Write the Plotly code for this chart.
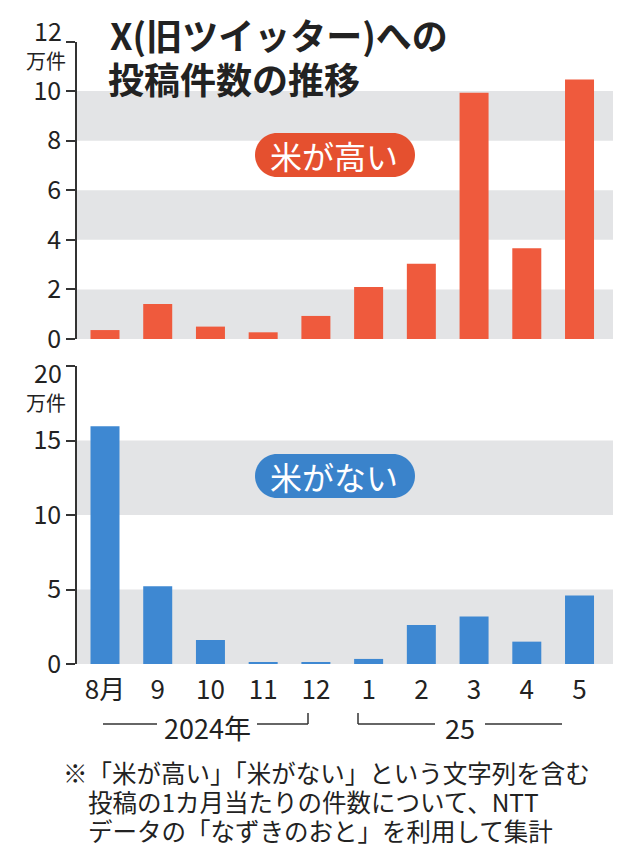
import plotly.graph_objects as go

# ---- data ----
months = ["8月", "9", "10", "11", "12", "1", "2", "3", "4", "5"]
high_price = [0.36, 1.41, 0.5, 0.27, 0.93, 2.1, 3.04, 9.93, 3.66, 10.47]   # 米が高い (万件)
no_rice = [15.95, 5.22, 1.61, 0.11, 0.13, 0.34, 2.62, 3.18, 1.5, 4.6]      # 米がない (万件)
top_ticks = [0, 2, 4, 6, 8, 10, 12]
bottom_ticks = [0, 5, 10, 15, 20]
title_lines = ["X(旧ツイッター)への", "投稿件数の推移"]
unit_label = "万件"
label_high = "米が高い"
label_none = "米がない"
year_labels = ["2024年", "25"]
notes = ["※「米が高い」「米がない」という文字列を含む",
         "投稿の1カ月当たりの件数について、NTT",
         "データの「なずきのおと」を利用して集計"]

W, H = 630, 860
RED = "#EF5A3D"
RED_PILL = "#E5502F"
BLUE = "#3E88D2"
BLUE_PILL = "#3A83CB"
GRAY = "#E3E4E6"
INK = "#222222"
FONT = "Noto Sans CJK JP"
TICK_SIZE = 25

# screen-pixel -> paper helpers (page body has an 8px margin)
X_OFF, Y_OFF = 8.0, 8.0


def px(x):
    return (x - X_OFF) / W


def py(y):
    return 1 - (y - Y_OFF) / H


fig = go.Figure()
fig.add_trace(go.Bar(x=months, y=high_price, xaxis="x", yaxis="y",
                     marker=dict(color=RED, line=dict(width=0)), width=0.55,
                     showlegend=False))
fig.add_trace(go.Bar(x=months, y=no_rice, xaxis="x2", yaxis="y2",
                     marker=dict(color=BLUE, line=dict(width=0)), width=0.55,
                     showlegend=False))

xdom = [px(77), px(613)]
xrange = [-0.531, 9.635]
yaxis_common = dict(showline=True, linecolor="#333", linewidth=1.5, ticks="outside",
                    ticklen=9, tickcolor="#333", tickwidth=1.5, showgrid=False,
                    zeroline=False, automargin=False,
                    tickfont=dict(family=FONT, size=TICK_SIZE, color=INK))

shapes = []
# alternating background bands
for ax, ticks in (("y", top_ticks), ("y2", bottom_ticks)):
    for i in range(0, len(ticks) - 1, 2):
        shapes.append(dict(type="rect", xref=("x" if ax == "y" else "x2") + " domain",
                           yref=ax, x0=0, x1=1, y0=ticks[i], y1=ticks[i + 1],
                           fillcolor=GRAY, line=dict(width=0), layer="below"))


def pill(x0, y0, x1, y1, color):
    r = (y1 - y0) / 2
    k = 0.5523 * r
    pts = [
        ("M", [(x0 + r, y0)]),
        ("L", [(x1 - r, y0)]),
        ("C", [(x1 - r + k, y0), (x1, y0 + r - k), (x1, y0 + r)]),
        ("C", [(x1, y0 + r + k), (x1 - r + k, y1), (x1 - r, y1)]),
        ("L", [(x0 + r, y1)]),
        ("C", [(x0 + r - k, y1), (x0, y0 + r + k), (x0, y0 + r)]),
        ("C", [(x0, y0 + r - k), (x0 + r - k, y0), (x0 + r, y0)]),
    ]
    path = ""
    for cmd, ps in pts:
        path += cmd + " " + " ".join(f"{px(a):.5f},{py(b):.5f}" for a, b in ps) + " "
    path += "Z"
    return dict(type="path", xref="paper", yref="paper", path=path,
                fillcolor=color, line=dict(width=0), layer="above")


shapes.append(pill(255, 133, 415, 177, RED_PILL))
shapes.append(pill(255, 454, 415, 498, BLUE_PILL))

# year brackets
line_style = dict(color="#333", width=1.5)
yl, yh = 724, 713
for (a, b) in ((103, 157), (257, 308), (358, 435), (485, 562)):
    shapes.append(dict(type="line", xref="paper", yref="paper", x0=px(a), x1=px(b),
                       y0=py(yl), y1=py(yl), line=line_style))
shapes.append(dict(type="line", xref="paper", yref="paper", x0=px(308), x1=px(308),
                   y0=py(yl), y1=py(yh), line=line_style))
shapes.append(dict(type="line", xref="paper", yref="paper", x0=px(358), x1=px(358),
                   y0=py(yl), y1=py(yh), line=line_style))

annotations = []
annotations.append(dict(text=title_lines[0], x=px(108), y=py(34), xref="paper", yref="paper",
                        xanchor="left", yanchor="middle", showarrow=False,
                        font=dict(family=FONT, size=36, color=INK, weight="bold")))
annotations.append(dict(text=title_lines[1], x=px(106), y=py(78), xref="paper", yref="paper",
                        xanchor="left", yanchor="middle", showarrow=False,
                        font=dict(family=FONT, size=36, color=INK, weight="bold")))
for yy in (60, 402):
    annotations.append(dict(text=unit_label, x=px(46), y=py(yy), xref="paper", yref="paper",
                            xanchor="center", yanchor="middle", showarrow=False,
                            font=dict(family=FONT, size=20, color=INK)))
# topmost tick labels, set slightly off their ticks as in the reference
annotations.append(dict(text=str(top_ticks[-1]), x=px(64), y=py(30), xref="paper", yref="paper",
                        xanchor="right", yanchor="middle", showarrow=False,
                        font=dict(family=FONT, size=TICK_SIZE, color=INK)))
annotations.append(dict(text=str(bottom_ticks[-1]), x=px(64), y=py(372), xref="paper", yref="paper",
                        xanchor="right", yanchor="middle", showarrow=False,
                        font=dict(family=FONT, size=TICK_SIZE, color=INK)))
annotations.append(dict(text=label_high, x=px(334), y=py(155), xref="paper", yref="paper",
                        xanchor="center", yanchor="middle", showarrow=False,
                        font=dict(family=FONT, size=32, color="white")))
annotations.append(dict(text=label_none, x=px(334), y=py(476), xref="paper", yref="paper",
                        xanchor="center", yanchor="middle", showarrow=False,
                        font=dict(family=FONT, size=32, color="white")))
annotations.append(dict(text=year_labels[0], x=px(207), y=py(727), xref="paper", yref="paper",
                        xanchor="center", yanchor="middle", showarrow=False,
                        font=dict(family=FONT, size=27, color=INK)))
annotations.append(dict(text=year_labels[1], x=px(460), y=py(727), xref="paper", yref="paper",
                        xanchor="center", yanchor="middle", showarrow=False,
                        font=dict(family=FONT, size=27, color=INK)))
for (txt, xx, yy) in ((notes[0], 61, 772), (notes[1], 86, 801), (notes[2], 86, 830)):
    annotations.append(dict(text=txt, x=px(xx), y=py(yy), xref="paper", yref="paper",
                            xanchor="left", yanchor="middle", showarrow=False,
                            font=dict(family=FONT, size=24.5, color=INK)))

top_text = [str(v) for v in top_ticks[:-1]] + [""]
bottom_text = [str(v) for v in bottom_ticks[:-1]] + [""]

fig.update_layout(
    width=W, height=H, margin=dict(l=0, r=0, t=0, b=0, pad=0, autoexpand=False),
    paper_bgcolor="white", plot_bgcolor="white",
    bargap=0.45,
    xaxis=dict(domain=xdom, range=xrange, type="category", showticklabels=False,
               showline=False, showgrid=False, zeroline=False, ticks="", anchor="y",
               automargin=False),
    yaxis=dict(domain=[py(339), py(41.5)], range=[0, 12], tickvals=top_ticks,
               ticktext=top_text, anchor="x", **yaxis_common),
    xaxis2=dict(domain=xdom, range=xrange, type="category", showticklabels=True,
                showline=False, showgrid=False, zeroline=False, ticks="", anchor="y2",
                ticklabelstandoff=8, automargin=False,
                tickfont=dict(family=FONT, size=26, color=INK)),
    yaxis2=dict(domain=[py(664), py(366)], range=[0, 20], tickvals=bottom_ticks,
                ticktext=bottom_text, anchor="x2", **yaxis_common),
    shapes=shapes,
    annotations=annotations,
)

fig.write_html("out.html")
